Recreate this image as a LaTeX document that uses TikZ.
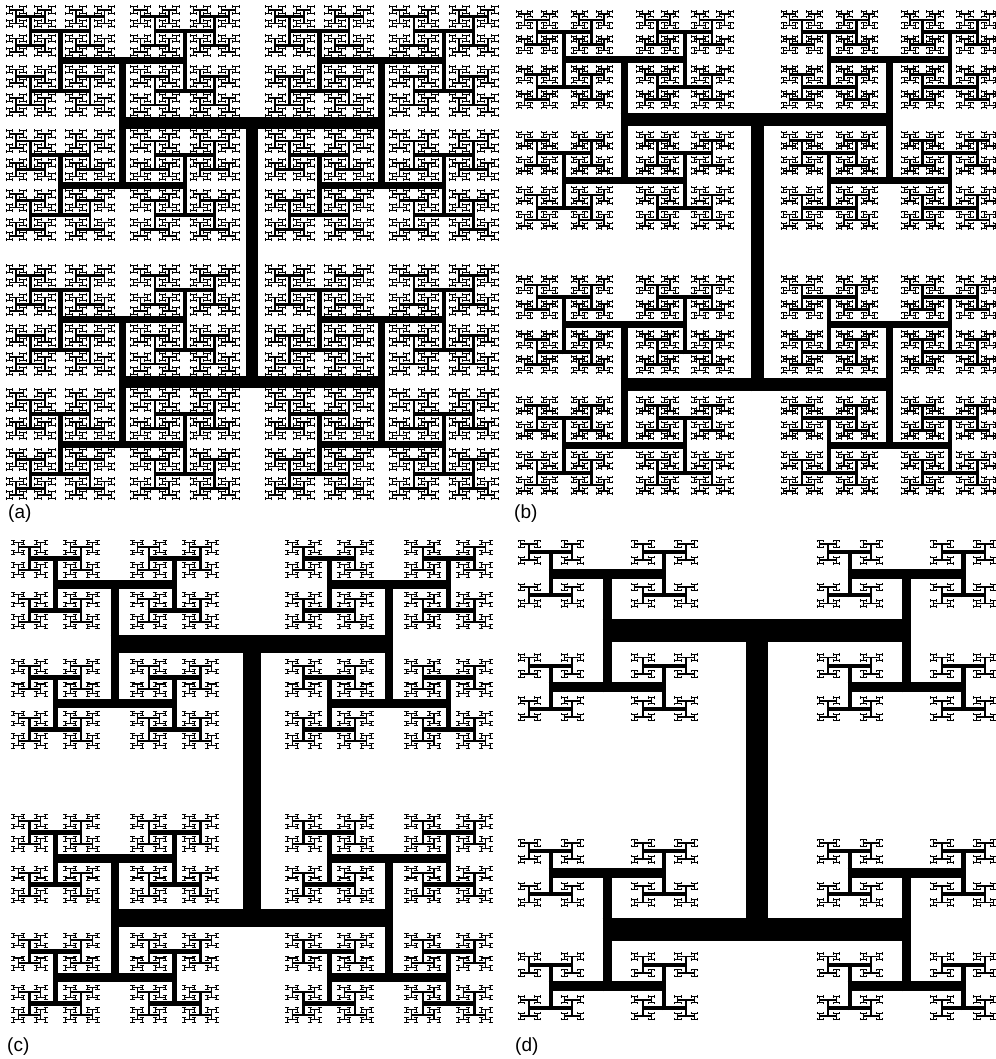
\documentclass[tikz,border=0pt]{standalone}
\usepackage{fontspec}
\setsansfont{Liberation Sans}

\newdimen\hx \newdimen\hy \newdimen\hlen \newdimen\hwid
\newdimen\hoff \newdimen\hext \newdimen\hpa \newdimen\hpb
\newcount\hlev
\newif\ifhfirst

% walk the H-tree down to level \htarget and draw the bars found there
\newcommand\hbranch{%
  \ifnum\hlev=\htarget\relax
    \ifhfirst \pgfsetlinewidth{\hwid}\global\hfirstfalse \fi
    \hext=\hwid
    \ifodd\hlev \hext=\hthin\hext \fi
    \ifnum\hlev=\hmax\relax \hext=0pt \fi
    \hext=0.5\hext
    \advance\hext 0.5\hlen
    \ifodd\hlev
      \hpa=\hx \advance\hpa-\hext
      \hpb=\hx \advance\hpb\hext
      \pgfpathmoveto{\pgfqpoint{\hpa}{\hy}}%
      \pgfpathlineto{\pgfqpoint{\hpb}{\hy}}%
    \else
      \hpa=\hy \advance\hpa-\hext
      \hpb=\hy \advance\hpb\hext
      \pgfpathmoveto{\pgfqpoint{\hx}{\hpa}}%
      \pgfpathlineto{\pgfqpoint{\hx}{\hpb}}%
    \fi
    \pgfusepath{stroke}%
  \else
    \hoff=0.5\hlen
    \ifodd\hlev \hlen=\hratio\hlen \hwid=\hthin\hwid \fi
    \advance\hlev 1
    \begingroup
      \ifodd\hlev \advance\hy\hoff \else \advance\hx\hoff \fi
      \hbranch
    \endgroup
    \begingroup
      \ifodd\hlev \advance\hy-\hoff \else \advance\hx-\hoff \fi
      \hbranch
    \endgroup
  \fi}

% centre x, centre y, trunk length, trunk width, length ratio, width ratio, depth
\newcommand\hpanel[7]{%
  \def\hratio{#5}\def\hthin{#6}\def\hmax{#7}%
  \foreach \hl in {0,...,#7}{%
    \begingroup
      \hx=#1pt \hy=#2pt \hlen=#3pt \hwid=#4pt \hlev=0
      \edef\htarget{\hl}%
      \global\hfirsttrue
      \hbranch
    \endgroup}}

\begin{document}
\begin{tikzpicture}[
        tag/.style={anchor=base west, inner sep=0pt,
            font=\sffamily\fontsize{19}{22}\selectfont},
    ]
    \useasboundingbox (0pt,0pt) rectangle (995pt,1059pt);

    % (a) and (b): the upper row
    \hpanel{252}{806.5}{259}{12}{0.48}{0.6}{12}
    \hpanel{757}{806.5}{265}{13}{0.455}{0.58}{12}
    % (c) and (d): the lower row
    \hpanel{252}{278}{274}{17.5}{0.435}{0.5}{11}
    \hpanel{757}{279}{299}{22.5}{0.38}{0.44}{10}

    \node[tag] (taga) at (8pt,540pt) {(a)};
    \node[tag] (tagb) at (514pt,540pt) {(b)};
    \node[tag] (tagc) at (7pt,8pt) {(c)};
    \node[tag] (tagd) at (515pt,8pt) {(d)};
\end{tikzpicture}
\end{document}
